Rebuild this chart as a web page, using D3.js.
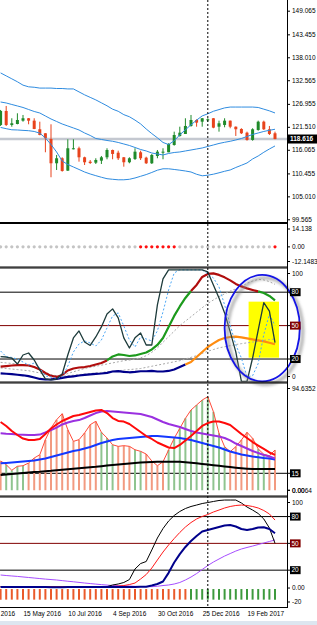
<!DOCTYPE html>
<html>
<head>
<meta charset="utf-8">
<script src="https://cdn.jsdelivr.net/npm/d3@7"></script>
<style>
body { margin: 0; background: #fff; }
svg { display: block; font-family: "Liberation Sans", Arial, sans-serif; }
</style>
</head>
<body>
<svg id="chart" width="317" height="625"></svg>
<script>
// weekly bars, 17 Apr 2016 .. 26 Mar 2017
var firstBar = "2016-04-17", lastBar = "2017-03-26"
var yearSeparator = "2017-01-01"
var dateTicks = ["2016-03-20", "2016-05-15", "2016-07-10", "2016-09-04", "2016-10-30", "2016-12-25", "2017-02-19"]

var open  = [121.95,125.27,121.95,122.18,122.97,123.54,122.97,120.93,119.98,118.62,112.86,114.05,111.11,116.18,116.42,114.28,113.24,113.00,113.48,114.28,116.01,115.37,114.28,113.10,113.88,115.47,114.19,112.86,114.59,115.47,115.47,117.20,119.34,119.81,121.71,123.13,122.73,123.13,123.54,121.54,121.95,122.97,121.54,121.00,120.12,118.39,120.76,122.73,120.93,119.98]
var high  = [125.51,126.46,123.54,124.72,124.32,123.60,123.54,122.73,120.00,122.11,114.83,114.28,118.55,118.55,116.80,114.42,113.64,114.05,114.59,116.42,116.10,115.85,114.35,114.28,116.42,115.85,114.42,115.07,116.01,116.42,117.61,120.36,121.54,123.54,124.32,123.30,123.60,123.54,123.60,122.97,123.54,123.00,121.60,121.17,120.36,121.17,122.97,122.97,121.71,120.36]
var low   = [121.71,121.71,121.54,122.10,122.73,122.11,120.95,119.50,115.47,109.54,111.27,110.87,111.05,116.15,113.24,112.45,112.69,112.69,112.69,113.81,113.81,113.64,112.05,112.86,113.64,113.64,112.69,112.69,114.05,113.81,115.47,117.04,119.17,119.81,121.54,121.54,121.54,122.73,121.17,120.36,121.40,121.17,119.34,119.81,118.22,118.22,120.59,120.76,119.57,118.55]
var close = [125.27,121.95,122.35,123.13,123.54,122.97,121.00,119.57,118.79,112.86,114.05,111.03,116.42,116.42,114.28,113.10,112.93,113.64,114.28,116.01,115.07,114.05,113.10,114.05,115.61,114.05,112.86,114.83,115.61,115.61,117.44,119.57,120.12,121.71,123.13,122.50,123.54,123.30,121.31,122.35,122.97,121.54,120.93,119.98,118.39,120.93,122.73,120.93,119.81,118.616]

var bandUpper = [134.3,133.6,132.9,132.2,131.4,131.0,130.9,130.7,130.7,130.7,130.6,130.6,130.5,130.5,129.8,129.1,128.5,127.9,127.2,126.5,125.7,125.2,124.4,123.9,123.1,122.2,121.0,119.9,118.9,117.8,117.3,118.2,119.6,120.8,122.0,123.1,124.1,124.6,125.2,125.6,126.0,126.2,126.2,126.2,126.2,126.2,126.1,125.7,125.3,124.8]
var bandMiddle = [127.40,127.17,126.81,126.46,126.10,125.62,125.15,124.79,124.08,123.37,122.78,122.18,121.71,121.24,120.76,120.05,119.46,118.74,118.51,118.27,118.08,117.80,117.44,117.08,116.61,116.13,115.78,115.30,115.07,114.83,115.18,115.42,115.54,115.78,116.01,116.25,116.49,116.85,117.20,117.56,117.84,118.08,118.39,118.74,119.22,119.69,120.05,120.41,120.69,120.93]
var bandLower = [121.36,121.07,120.81,120.76,120.67,120.59,120.41,120.00,118.86,117.32,115.54,113.40,112.57,111.98,111.39,110.79,110.32,109.92,109.54,109.20,109.06,108.94,108.94,109.06,109.37,109.77,110.18,110.68,111.22,111.55,111.55,111.39,111.22,111.03,110.79,110.25,109.89,110.03,110.27,110.60,110.96,111.27,111.86,112.38,112.93,113.88,114.59,115.47,116.25,116.97]

// panel 2: signal dots (1 = red)
var dotSignal = [0,0,0,0,0,0,0,0,0,0,0,0,0,0,0,0,0,0,0,0,0,0,0,0,0,1,1,1,1,1,1,1,0,0,0,0,0,0,0,0,0,0,0,0,0,0,0,0,0,1]

// panel 3: stochastic-like lines (0..100)
var stochMain = [22.1,21.8,20.9,15.5,23.6,25.4,19.1,10.2,2.1,1.2,2,6.6,23.6,38.9,45.2,35.3,32.2,39.8,48.8,60.5,65,56.9,39,29.9,39,43.4,32.6,32.6,68.6,92,100,100,100,100,100,100,100,98.2,86.5,74.8,61.4,44.4,26.4,0,0,20.9,46,70.6,63,34.7]
var stochSignal = [27.2,22.1,21.4,20,17.3,14.6,16.4,11.9,4.8,3.9,2.7,3.9,13.7,26.3,33.5,36.2,34.4,31.7,37.1,47.9,58.7,61.4,49.7,37.1,30.8,39.8,38,36.2,45.3,62.3,82,97.3,100,100,100,100,100,96.4,92.8,84.7,68.6,50.6,32.6,20.9,4,5,16,42,60,50]
var slowA = [17,16.5,16,15.5,15,14,12.5,10.5,8,6,5,5.5,7,8.5,10,11.5,12.5,13.5,14.5,15.5,16.5,17.5,18.5,19,20,21,23,26,30,35,40,45,50,54,58,62,66,70,73,76,78.5,81,83,85,88,90,91.5,91,89.5,87]
var slowB = [12,11.5,11,10.5,10,9.5,8.5,7.5,6,5,4.5,4.5,5,5.5,6,6.5,7,7.5,8,8.5,9,9.5,10,10.5,11,11.5,12.5,13.5,14.5,15.5,16.5,17.5,18.5,20,21.5,23,25,27,28.5,30,31,32,33,33.8,34.5,35.2,36,36.8,37.4,38]
var trendLine = [13.1,13.7,14.2,14.6,14.6,14.2,12.8,10.6,7.5,4.8,3.9,5.7,9.7,11.5,12.4,12.8,13.7,15.1,16.4,18.7,22.3,24.1,23.6,22.7,23.2,24.5,25.9,28.6,32.6,38.9,48.8,58.7,67.2,74.8,81.1,86.5,93.7,96.4,96.9,95.5,93.3,90.6,87.4,85.2,83.4,82,80.7,79.3,76.6,72.6]
var trendUp = [0,0,0,0,0,0,0,0,0,0,0,0,0,0,0,0,0,0,0,0,1,1,1,1,1,1,1,1,1,1,1,1,1,1,1,0,0,0,0,0,0,0,0,0,0,0,0,1,1,1]
var baseLine = [7.2,6.8,6.4,5.9,5.4,4.6,3.4,2.1,1.6,1.8,2.2,3,3.9,4.5,5.2,5.8,6.3,6.7,7,7.6,8.8,9.1,8.5,8.1,8.4,9,9,9.3,8.8,8.8,9.3,10.6,12.8,15.1,17.3,21.8,26.3,30.8,34,37.1,38.9,39.8,40.1,39.5,38.5,37.6,36.7,35.8,34.6,33.2]
var baseUp = [0,0,0,0,0,0,0,0,0,0,0,0,0,0,0,0,0,0,0,0,0,0,0,0,0,0,0,0,0,0,0,0,0,0,1,1,1,1,1,1,1,1,1,1,1,1,1,1,1,1]
// marked area (yellow box + blue ellipse)
var markBox = {from: "2017-02-21", to: "2017-03-31", top: 71.5, bottom: 21.2}
var markEllipse = {from: "2017-01-22", to: "2017-04-26", top: 95.5, bottom: 0}

// panel 4: histogram + averages
var histo = [25.9,22.6,17.7,21.2,21.7,24.1,28.5,31.4,44.7,55,62.3,67.6,53.5,43.2,44.7,50.6,57.9,60.9,51.2,46.2,40.2,38.8,39.4,38.8,35.8,34.4,32,25.9,21.7,25.2,35.6,45.9,54.7,63.5,70.9,75.3,79.7,82.6,69.4,50.3,38.5,34.1,38.5,44.4,51.2,45.9,36.5,31.8,30.5,35.6]
var histoUp = [0,1,1,1,1,0,0,0,0,0,0,0,0,0,0,0,0,0,1,1,1,0,0,0,1,1,0,0,0,0,1,1,1,1,1,1,1,1,1,1,1,0,0,0,0,0,1,1,0,0]
var fastAvg = [60.3,56.8,52.3,48.8,45.7,44.4,44.4,45.3,49.7,54.5,58.1,61.2,63.4,65.6,66.5,67.8,69.1,70.4,70.9,68.2,63.8,61.2,60.7,58.5,55,51.5,47.9,45.3,42.2,40,37.8,37.3,40,44,47.9,52.3,56.8,59.4,60.7,60.7,59.4,57.6,53.7,49.7,46.2,42.6,39.5,36.5,33.4,31.2]
var midAvg = [50.3,49.9,49.7,49.2,49,48.8,48.8,49.2,51,53.2,55.4,58.1,59.8,61.2,62,63.8,66,68.2,69.5,70,69.5,69.1,68.7,68.2,67.8,67.3,66,64.7,62.5,60.3,58.5,57.2,55.9,54.1,52.3,51,50.1,49.2,48.4,47.5,46.2,44,41.3,39.1,36.9,34.7,32.9,31.2,29.8,28.2]
var slowAvg = [23.8,24.1,24.5,25,25.4,25.9,26.3,27.2,28.1,29.4,30.7,32,33.4,34.7,35.6,36.9,38.2,40,41.7,43.1,44.4,45.3,45.7,46.2,46.6,47,47.5,47.9,47.9,47.5,47,46.6,46.2,45.3,44.4,43.1,41.7,40.4,39.1,37.8,36,34.2,32.9,31.6,30.7,29.8,29.1,28.5,28.1,27.2]
var longAvg = [13.5,13.9,14.4,14.8,15.3,15.7,16.2,16.4,16.9,17.2,17.7,18.1,18.5,19,19.4,19.9,20.3,20.7,21.3,21.9,22.3,22.8,23.2,23.7,24.1,24.5,24.7,25,25.2,25.2,25.2,25.2,25.2,24.7,24.3,23.8,23.2,22.7,22.2,21.6,21.1,20.6,20,19.5,19.1,18.8,18.8,18.8,18.8,18.8]
var histoLevel = 15

// panel 5
var lowBlack = [1.5,1.5,1.5,1.5,1.5,1.5,1.4,1.4,1.3,1.3,1.3,1.3,1.4,1.4,1.4,1.5,1.5,1.5,1.6,1.6,3.4,4.5,6.2,9.5,21.3,27.4,29.7,42.6,56,66.6,75,81.2,85.7,89,91.3,92.9,94.6,95.7,96.9,98,98.5,98.5,98.5,95.2,90.7,87.3,83.4,77.3,67.2,50.1]
var lowRed = [1.5,1.5,1.5,1.5,1.5,1.5,1.4,1.4,1.3,1.3,1.3,1.3,1.4,1.4,1.4,1.5,1.5,1.5,1.5,1.6,1.7,2.2,2.8,3.9,5.6,10.1,15.1,22.4,31.4,40.3,48.2,55.4,62.2,68.3,73.3,77.3,80.1,82.3,85.1,87.3,89.6,91.3,92.4,92.9,92.4,91.3,89.6,86.8,82.9,76.1]
var lowNavy = [1.2,1.2,1.2,1.2,1.2,1.2,1.1,1.1,1.1,1.0,1.0,1.0,1.1,1.1,1.1,1.2,1.2,1.2,1.2,1.2,1.2,1.2,1.2,1.2,1.2,1.3,1.5,2.8,4.5,7.3,17,28.5,38,46,52.6,58.2,63.3,65,66.6,68.3,70,70.5,68.9,66.1,65,66.1,67.7,68,66.1,61.3]
var lowPurple = [14.6,14,13.5,13,12.4,11.8,11.2,10.6,10,9.5,9,8.3,7.6,7,6.3,5.6,5,4.4,3.8,3.3,2.8,2.6,2.4,2.2,1.9,1.7,1.6,1.5,2,2.8,3.4,4.5,6.2,9,12.3,16.2,20.7,25.2,29.1,32.5,35.8,38.6,41.4,43.7,45.4,47,48.7,50.4,52.1,53.8]
var lowBarUp = [0,0,0,0,0,0,0,0,0,0,0,0,0,0,0,0,0,0,0,0,0,0,0,0,0,0,0,0,0,0,0,0,0,0,1,1,1,1,1,1,1,1,1,1,1,1,1,1,1,1]
var lowBarValue = -13

var priceTicks = [149.065, 143.455, 138.010, 132.565, 126.955, 121.510, 116.065, 110.455, 105.010, 99.565]

var svg = d3.select("#chart")
var plotR = 287
var parseDay = d3.utcParse("%Y-%m-%d")
var dates = d3.utcSunday.range(parseDay(firstBar), d3.utcDay.offset(parseDay(lastBar), 1))
var x = d3.scaleUtc().domain([dates[0], dates[dates.length - 1]]).range([0.6, 275])

var panels = {
  price: {top: 0, bottom: 222, y: d3.scaleLinear().domain([99.565, 149.065]).range([219.3, 10.7])},
  dots:  {top: 224, bottom: 266.5, y: d3.scaleLinear().domain([-12.1483, 14.138]).range([263.5, 227.5])},
  stoch: {top: 268.5, bottom: 381.5, y: d3.scaleLinear().domain([0, 100]).range([381.3, 269.9])},
  histo: {top: 383.5, bottom: 495.5, y: d3.scaleLinear().domain([0, 94.6352]).range([490.3, 383.1])},
  low:   {top: 497.5, bottom: 607, y: d3.scaleLinear().domain([-20, 100]).range([605.9, 498.7])}
}

svg.append("rect").attr("width", 317).attr("height", 625).attr("fill", "#fff")
svg.append("rect").attr("y", 621).attr("width", 317).attr("height", 4).attr("fill", "#dde6f0")

var defs = svg.append("defs")
defs.append("filter").attr("id", "blur").append("feGaussianBlur").attr("stdDeviation", 1.6)

Object.keys(panels).forEach(function(k) {
  var p = panels[k]
  defs.append("clipPath").attr("id", "clip-" + k)
    .append("rect").attr("x", 0).attr("y", p.top).attr("width", plotR).attr("height", p.bottom - p.top)
  p.g = svg.append("g").attr("clip-path", "url(#clip-" + k + ")")
})

function drawLine(p, values, color, width, dash) {
  var path = p.g.append("path").datum(values)
    .attr("fill", "none").attr("stroke", color).attr("stroke-width", width)
    .attr("stroke-linejoin", "round")
    .attr("d", d3.line().x(function(d, i) { return x(dates[i]) }).y(function(d) { return p.y(d) }))
  if (dash) path.attr("stroke-dasharray", dash)
}

// line that changes colour with a flag array (segment i-1 -> i takes flags[i])
function drawTwoColor(p, values, flags, colors, width) {
  var start = 0
  for (var i = 2; i <= values.length; i++) {
    if (i == values.length || flags[i] != flags[i - 1]) {
      var idx = d3.range(start, i)
      p.g.append("path").datum(idx)
        .attr("fill", "none").attr("stroke", colors[flags[i - 1]]).attr("stroke-width", width)
        .attr("stroke-linejoin", "round")
        .attr("d", d3.line().x(function(j) { return x(dates[j]) }).y(function(j) { return p.y(values[j]) }))
      start = i - 1
    }
  }
}

function levelLine(p, v, color) {
  p.g.append("line").attr("x1", 0).attr("x2", plotR).attr("y1", p.y(v)).attr("y2", p.y(v))
    .attr("stroke", color).attr("stroke-width", 1)
}

// ---- panel 1: candles + bands
var pp = panels.price
var lastClose = close[close.length - 1]
pp.g.append("line").attr("x1", 0).attr("x2", plotR)
  .attr("y1", pp.y(lastClose)).attr("y2", pp.y(lastClose))
  .attr("stroke", "#c4c8d0").attr("stroke-width", 2.5)

var candle = pp.g.selectAll("g.candle").data(dates).enter().append("g")
candle.append("line")
  .attr("x1", function(d) { return x(d) }).attr("x2", function(d) { return x(d) })
  .attr("y1", function(d, i) { return pp.y(high[i]) }).attr("y2", function(d, i) { return pp.y(low[i]) })
  .attr("stroke", function(d, i) { return close[i] >= open[i] ? "#1f8a2a" : "#e8431c" })
candle.append("rect")
  .attr("x", function(d) { return x(d) - 1.5 }).attr("width", 3)
  .attr("y", function(d, i) { return pp.y(Math.max(open[i], close[i])) })
  .attr("height", function(d, i) { return Math.max(1, pp.y(Math.min(open[i], close[i])) - pp.y(Math.max(open[i], close[i]))) })
  .attr("fill", function(d, i) { return close[i] >= open[i] ? "#1f8a2a" : "#e8431c" })

drawLine(pp, bandUpper, "#2f8ce0", 1)
drawLine(pp, bandMiddle, "#2f8ce0", 1)
drawLine(pp, bandLower, "#2f8ce0", 1)

// ---- panel 2: dots
var pd = panels.dots
pd.g.selectAll("circle").data(dates).enter().append("circle")
  .attr("cx", function(d) { return x(d) }).attr("cy", pd.y(0)).attr("r", 1.6)
  .attr("fill", function(d, i) { return dotSignal[i] ? "#ff1010" : "#c4c4c4" })

// ---- panel 3
var ps = panels.stoch
levelLine(ps, 80, "#000")
levelLine(ps, 20, "#000")
levelLine(ps, 50, "#800000")
ps.g.append("rect")
  .attr("x", x(parseDay(markBox.from))).attr("width", x(parseDay(markBox.to)) - x(parseDay(markBox.from)))
  .attr("y", ps.y(markBox.top)).attr("height", ps.y(markBox.bottom) - ps.y(markBox.top))
  .attr("fill", "#ffff00")
drawLine(ps, slowB, "#a8a8a8", 1, "2,2")
drawLine(ps, slowA, "#a8a8a8", 1, "2,2")
drawTwoColor(ps, trendLine, trendUp, ["#b00d0d", "#1c9a1c"], 2.2)
drawTwoColor(ps, baseLine, baseUp, ["#00008b", "#ff8c10"], 2.2)
drawLine(ps, stochSignal, "#4aa6f5", 1, "2,2")
drawLine(ps, stochMain, "#1d3b3b", 1.3)

// ---- panel 4
var ph = panels.histo
levelLine(ph, histoLevel, "#000")
ph.g.selectAll("line.bar").data(dates).enter().append("line")
  .attr("x1", function(d) { return x(d) }).attr("x2", function(d) { return x(d) })
  .attr("y1", ph.y(0)).attr("y2", function(d, i) { return ph.y(histo[i]) })
  .attr("stroke", function(d, i) { return histoUp[i] ? "#8fc48f" : "#f29a80" }).attr("stroke-width", 2)
drawLine(ph, histo, "#ff4a3a", 1)
drawLine(ph, longAvg, "#000", 2)
drawLine(ph, slowAvg, "#1438ff", 2)
drawLine(ph, midAvg, "#9a30e0", 2)
drawLine(ph, fastAvg, "#ff0a0a", 2)

// ---- panel 5
var pl = panels.low
levelLine(pl, 80, "#000")
levelLine(pl, 20, "#000")
levelLine(pl, 50, "#800000")
pl.g.selectAll("line.bar").data(dates).enter().append("line")
  .attr("x1", function(d) { return x(d) }).attr("x2", function(d) { return x(d) })
  .attr("y1", pl.y(0) + 1).attr("y2", pl.y(lowBarValue))
  .attr("stroke", function(d, i) { return lowBarUp[i] ? "#3d9a3d" : "#ea5a2a" }).attr("stroke-width", 2)
drawLine(pl, lowPurple, "#a64dff", 1)
drawLine(pl, lowBlack, "#000", 1)
drawLine(pl, lowRed, "#ff1a1a", 1)
drawLine(pl, lowNavy, "#00008b", 2)

// ---- ellipse mark (drawn over panel 3 and past the plot edge)
var ex0 = x(parseDay(markEllipse.from)), ex1 = x(parseDay(markEllipse.to))
var ey0 = ps.y(markEllipse.top), ey1 = ps.y(markEllipse.bottom)
svg.append("ellipse")
  .attr("cx", (ex0 + ex1) / 2 + 3).attr("cy", (ey0 + ey1) / 2 + 3)
  .attr("rx", (ex1 - ex0) / 2).attr("ry", (ey1 - ey0) / 2)
  .attr("fill", "none").attr("stroke", "#888").attr("stroke-width", 3).attr("opacity", 0.7)
  .attr("filter", "url(#blur)")
svg.append("ellipse")
  .attr("cx", (ex0 + ex1) / 2).attr("cy", (ey0 + ey1) / 2)
  .attr("rx", (ex1 - ex0) / 2).attr("ry", (ey1 - ey0) / 2)
  .attr("fill", "none").attr("stroke", "#1414e6").attr("stroke-width", 1.8)

// ---- frames
var frame = svg.append("g").attr("stroke", "#000").attr("stroke-width", 1)
Object.keys(panels).forEach(function(k) {
  var p = panels[k]
  if (p.top > 0) frame.append("line").attr("x1", 0).attr("x2", plotR + 1).attr("y1", p.top - 0.5).attr("y2", p.top - 0.5)
  frame.append("line").attr("x1", 0).attr("x2", plotR + 1).attr("y1", p.bottom + 0.5).attr("y2", p.bottom + 0.5)
})
frame.append("line").attr("x1", plotR + 0.5).attr("x2", plotR + 0.5).attr("y1", 0).attr("y2", 607.5)

// year separator
svg.append("line")
  .attr("x1", x(parseDay(yearSeparator))).attr("x2", x(parseDay(yearSeparator)))
  .attr("y1", 0).attr("y2", 607)
  .attr("stroke", "#000").attr("stroke-dasharray", "2,2")

// ---- right axis labels
var priceAxis = svg.append("g").attr("transform", "translate(" + plotR + ",0)")
  .call(d3.axisRight(pp.y).tickValues(priceTicks).tickFormat(d3.format(".3f")).tickSize(3).tickPadding(2))
priceAxis.select(".domain").remove()
priceAxis.selectAll("text").attr("font-size", 6.5).attr("font-family", '"Liberation Sans", Arial, sans-serif')

var lastY = pp.y(lastClose)
svg.append("rect").attr("x", plotR + 1).attr("y", lastY - 4.5).attr("width", 29).attr("height", 9).attr("fill", "#000")
svg.append("text").attr("x", plotR + 3).attr("y", lastY).attr("dy", "0.35em")
  .attr("font-size", 6.5).attr("font-weight", "bold").attr("fill", "#fff").text(d3.format(".3f")(lastClose))

function sideLabels(p, items) {
  var g = svg.append("g").attr("font-size", 6.5)
  items.forEach(function(it) {
    var yy = Math.max(p.top + 5, Math.min(p.bottom - 5, p.y(it.v)))
    g.append("line").attr("x1", plotR).attr("x2", plotR + 3).attr("y1", yy).attr("y2", yy).attr("stroke", "#000")
    if (it.box) {
      g.append("rect").attr("x", plotR + 3).attr("y", yy - 4).attr("width", it.text.length * 3.8 + 3).attr("height", 8)
        .attr("fill", it.box)
    }
    g.append("text").attr("x", plotR + (it.box ? 4.5 : 5)).attr("y", yy).attr("dy", "0.35em")
      .attr("fill", it.box ? "#fff" : "#000").text(it.text)
  })
}
sideLabels(panels.dots, [{v: 14.138, text: "14.138"}, {v: 0, text: "0.00"}, {v: -12.1483, text: "-12.1483"}])
sideLabels(ps, [{v: 100, text: "100"}, {v: 80, text: "80", box: "#000"}, {v: 50, text: "50", box: "#800000"},
  {v: 20, text: "20", box: "#000"}, {v: 0, text: "0"}])
// the two bottom values of this panel are printed on top of each other, as in the source
sideLabels(ph, [{v: 94.6352, text: "94.6352"}, {v: histoLevel, text: "15", box: "#000"}, {v: 0, text: "0.0064"}, {v: 0, text: "0.00"}])
sideLabels(pl, [{v: 100, text: "100"}, {v: 80, text: "80", box: "#000"}, {v: 50, text: "50", box: "#800000"},
  {v: 20, text: "20", box: "#000"}, {v: 0, text: "0.00"}, {v: -20, text: "-20"}])

// ---- time axis
var timeAxis = svg.append("g").attr("transform", "translate(0,607)")
  .call(d3.axisBottom(x).tickValues(dateTicks.map(parseDay)).tickFormat(d3.utcFormat("%-d %b %Y")).tickSize(0))
timeAxis.select(".domain").remove()
timeAxis.selectAll("text").attr("text-anchor", "start").attr("dy", "0.71em").attr("y", 4)
  .attr("font-size", 6.5).attr("font-family", '"Liberation Sans", Arial, sans-serif')
</script>
</body>
</html>
